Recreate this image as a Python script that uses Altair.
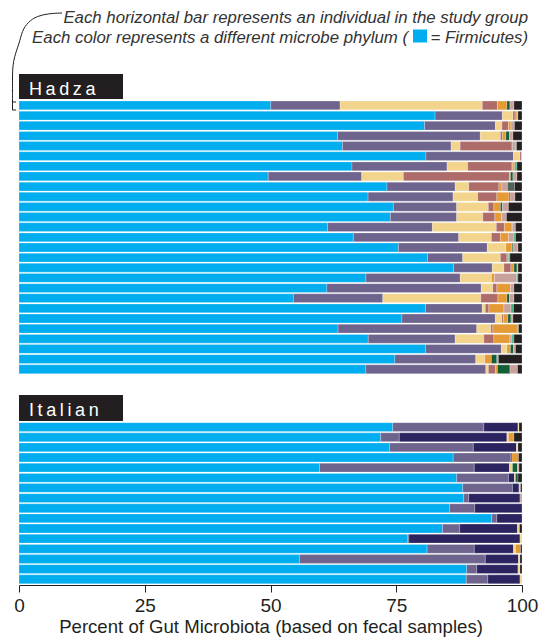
import altair as alt
import pandas as pd

PHYLA = ["Firmicutes", "Bacteroidetes", "Actinobacteria", "Proteobacteria",
         "Spirochaetes", "Tenericutes", "Cyanobacteria", "Euryarchaeota",
         "Elusimicrobia", "Synergistetes", "Unclassified"]
COLORS = ["#00AEEF", "#6E648E", "#2B2461", "#F2D48C", "#AD6C69", "#E69A36",
          "#145E35", "#C9A19C", "#3FB27D", "#4E6455", "#231F20"]

# one list per individual, values in PHYLA order (percent)
hadza = [
    [50.1, 13.8, 0, 28.3, 3.0, 1.9, 0.6, 0.8, 0, 0, 1.6],
    [82.8, 13.4, 0, 2.1, 0.4, 0.4, 0, 0.2, 0, 0, 0.8],
    [80.8, 14.1, 0, 1.3, 1.3, 0.5, 0, 0.7, 0, 0, 1.5],
    [63.4, 28.4, 0, 4.0, 0.4, 0.7, 0.7, 0.7, 0, 0, 1.8],
    [64.3, 21.6, 0, 1.8, 10.2, 0, 0.2, 0.6, 0.2, 0, 1.1],
    [80.9, 17.4, 0, 1.3, 0.3, 0, 0, 0.1, 0, 0, 0],
    [66.2, 18.9, 0, 4.1, 8.8, 0.2, 0, 0.4, 0.4, 0, 1.0],
    [49.6, 18.6, 0, 8.3, 21.1, 0.2, 0.5, 0.8, 0, 0, 1.0],
    [73.3, 13.6, 0, 2.7, 6.0, 0.6, 0, 1.1, 0, 1.4, 1.5],
    [69.4, 16.9, 0, 4.9, 3.8, 2.4, 0.2, 1.0, 0, 0, 1.4],
    [74.5, 12.6, 0, 6.3, 1.1, 1.3, 0.4, 1.2, 0, 0, 2.7],
    [73.9, 13.2, 0, 5.2, 2.4, 1.3, 0, 1.0, 0, 0, 3.1],
    [61.3, 20.8, 0, 12.7, 1.6, 1.5, 0.1, 0.6, 0, 0, 1.3],
    [66.6, 21.0, 0, 6.5, 1.8, 1.6, 0, 1.1, 0.3, 0, 1.3],
    [75.5, 17.7, 0, 3.7, 0, 1.2, 0.2, 1.0, 0, 0, 0.8],
    [81.3, 7.0, 0, 7.5, 1.3, 0.3, 0, 0, 0.3, 0, 2.4],
    [86.4, 7.7, 0, 2.3, 1.4, 0.6, 0.6, 0.2, 0, 0, 0.8],
    [69.1, 18.8, 0, 6.2, 0, 0.6, 0, 4.4, 0.3, 0, 0.8],
    [61.2, 30.7, 0, 2.3, 0.8, 2.7, 0, 0.7, 0, 0, 1.6],
    [54.6, 17.8, 0, 19.5, 3.4, 1.8, 0.5, 0.9, 0, 0, 1.6],
    [80.9, 11.3, 0, 0.6, 0.7, 3.0, 0, 1.4, 0.5, 0, 1.7],
    [76.2, 18.6, 0, 1.3, 0.3, 0.9, 0.6, 0.4, 0, 0, 1.8],
    [63.5, 27.6, 0, 2.8, 0.4, 4.9, 0, 0, 0.2, 0, 0.7],
    [69.5, 17.3, 0, 5.7, 2.0, 3.2, 0, 0.4, 0.4, 0, 1.6],
    [80.9, 15.1, 0, 1.1, 0, 0.7, 0.6, 0.4, 0, 0, 1.3],
    [74.8, 16.1, 0, 1.8, 0, 1.3, 1.1, 0.3, 0, 0, 4.7],
    [69.1, 23.9, 0, 0.5, 1.4, 0.4, 2.5, 1.5, 0, 0, 0.9],
]

italian = [
    [74.3, 18.1, 6.8, 0.2, 0, 0, 0, 0, 0, 0, 0.6],
    [71.9, 3.7, 21.4, 0.3, 0, 1.1, 0, 0, 0, 0, 1.6],
    [73.8, 16.7, 8.6, 0.3, 0, 0, 0, 0, 0, 0, 0.8],
    [86.4, 11.5, 0.2, 0, 0, 1.3, 0, 0, 0, 0, 0.7],
    [59.8, 30.8, 7.0, 0.6, 0, 0, 1.0, 0.3, 0, 0, 0.6],
    [87.1, 10.3, 1.2, 0.2, 0, 0, 0.5, 0, 0, 0, 0.8],
    [88.3, 9.9, 1.3, 0.3, 0, 0, 0, 0, 0, 0, 0.3],
    [88.5, 1.0, 10.2, 0, 0, 0, 0, 0.4, 0, 0, 0],
    [85.7, 5.0, 9.4, 0, 0, 0, 0, 0, 0, 0, 0],
    [94.0, 1.0, 5.0, 0, 0, 0, 0, 0, 0, 0, 0],
    [84.2, 3.4, 11.5, 0.4, 0, 0, 0, 0, 0, 0, 0.5],
    [77.3, 0.3, 22.1, 0.4, 0, 0, 0, 0, 0, 0, 0],
    [81.3, 9.4, 7.8, 0.4, 0, 1.0, 0, 0, 0, 0, 0.3],
    [55.8, 37.0, 6.6, 0.3, 0, 0, 0, 0, 0, 0, 0.4],
    [89.0, 2.0, 8.2, 0.4, 0, 0, 0, 0, 0, 0, 0.4],
    [89.0, 4.3, 6.4, 0.4, 0, 0, 0, 0, 0, 0, 0],
]

TICKS = [0, 25, 50, 75, 100]
X_TITLE = "Percent of Gut Microbiota (based on fecal samples)"
NOTE1 = "Each horizontal bar represents an individual in the study group"
NOTE2A = "Each color represents a different microbe phylum ("
NOTE2B = "= Firmicutes)"

GAP_ROWS = 4.7
BAND = 0.87
FONT = "Liberation Sans, Arial, Helvetica, sans-serif"
INK = "#231F20"

records = []
for group, data, offset in [("Hadza", hadza, 0.0),
                            ("Italian", italian, len(hadza) + GAP_ROWS)]:
    for i, vals in enumerate(data):
        total = float(sum(vals))
        cum = 0.0
        for k, v in enumerate(vals):
            if v <= 0:
                continue
            start = cum / total * 100
            cum += v
            end = cum / total * 100
            records.append(dict(group=group, subject=i + 1, phylum=PHYLA[k],
                                start=start, end=end,
                                pos=offset + i, pos2=offset + i + BAND))
df = pd.DataFrame(records)
YMAX = len(hadza) + GAP_ROWS + len(italian)

bars = alt.Chart(df).mark_rect(stroke="white", strokeWidth=0.4, strokeOpacity=0.6).encode(
    x=alt.X("start:Q", scale=alt.Scale(domain=[0, 100], nice=False, zero=False),
            title=X_TITLE,
            axis=alt.Axis(values=TICKS, grid=False, domainColor=INK, domainWidth=1,
                          tickColor=INK, tickWidth=1, tickSize=7,
                          labelFont=FONT, labelFontSize=19, labelColor=INK,
                          labelPadding=4, labelFlush=False,
                          titleFont=FONT, titleFontSize=18.6, titleColor=INK,
                          titleFontWeight="normal", titlePadding=2)),
    x2="end:Q",
    y=alt.Y("pos:Q", scale=alt.Scale(domain=[0, YMAX], reverse=True, nice=False, zero=False),
            axis=None),
    y2="pos2:Q",
    color=alt.Color("phylum:N", scale=alt.Scale(domain=PHYLA, range=COLORS), legend=None),
)

one = pd.DataFrame({"a": [0]})

def box(y0, y1):
    return alt.Chart(one).mark_rect(color=INK).encode(
        x=alt.value(0), x2=alt.value(104), y=alt.value(y0), y2=alt.value(y1))

def label(txt, y):
    return alt.Chart(one).mark_text(align="left", baseline="alphabetic", color="white",
                                    font=FONT, fontSize=18).encode(
        x=alt.value(10), y=alt.value(y), text=alt.value(txt))

def note(txt, x, y):
    return alt.Chart(one).mark_text(align="right", baseline="alphabetic", color="#333333",
                                    font=FONT, fontSize=16.8, fontStyle="italic").encode(
        x=alt.value(x), y=alt.value(y), text=alt.value(txt))

square = alt.Chart(one).mark_rect(color="#00AEEF").encode(
    x=alt.value(394), x2=alt.value(408), y=alt.value(-71.5), y2=alt.value(-58.5))

curve_df = pd.DataFrame({
    "px": [43, 30, 18, 9, 3, 0.5, -6.5, -6.5, -6.5],
    "py": [-88, -87.5, -85, -79, -70, -58, -40, -20, 1],
    "i": list(range(9)),
})
curve = alt.Chart(curve_df).mark_line(interpolate="basis", color=INK, strokeWidth=1).encode(
    x=alt.X("px:Q", scale=None), y=alt.Y("py:Q", scale=None), order="i:Q")

bracket_df = pd.DataFrame({"px": [-3, -6.5, -6.5, -3], "py": [1, 1, 9, 9], "i": [0, 1, 2, 3]})
bracket = alt.Chart(bracket_df).mark_line(color=INK, strokeWidth=1).encode(
    x=alt.X("px:Q", scale=None), y=alt.Y("py:Q", scale=None), order="i:Q")

chart = alt.layer(
    bars,
    box(-27, -2), label("H\u2009a\u2009d\u2009z\u2009a", -6),
    box(294, 320), label("I\u2009t\u2009a\u2009l\u2009i\u2009a\u2009n", 315),
    note(NOTE1, 509, -78.5), note(NOTE2A, 389, -58.5), note(NOTE2B, 509, -58.5),
    square, curve, bracket,
).properties(
    width=503, height=484,
    autosize=alt.AutoSizeParams(type="none"),
    padding={"left": 11, "top": 93, "right": 20, "bottom": 56},
).configure_view(strokeWidth=0)

chart.save("out.html", embed_options={"renderer": "svg", "actions": False})
